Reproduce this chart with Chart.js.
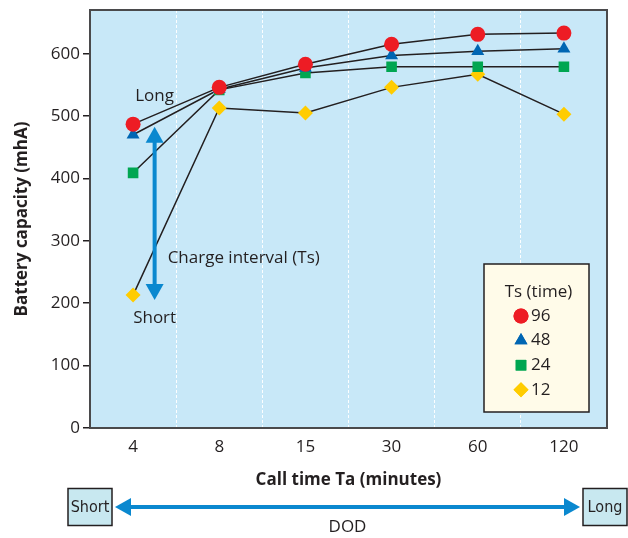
<!DOCTYPE html>
<html>
<head>
<meta charset="utf-8">
<script src="https://cdn.jsdelivr.net/npm/chart.js@4/dist/chart.umd.min.js"></script>
<style>
  html, body { margin: 0; padding: 0; background: #fff; }
  #wrap { width: 628px; height: 538px; }
</style>
</head>
<body>
<div id="wrap"><canvas id="batteryChart" width="628" height="538"></canvas></div>
<script>
// Call time categories (minutes)
const callTimes = ['4', '8', '15', '30', '60', '120'];
const yTicks = [0, 100, 200, 300, 400, 500, 600];

// Battery capacity (mhA) per charge interval Ts
const ts96 = [487, 546, 583, 615, 631, 633];
const ts48 = [470, 543, 577, 597, 604, 608];
const ts24 = [409, 542, 569, 579, 579, 579];
const ts12 = [213, 513, 505, 546, 567, 503];

const seriesLabels = ['96', '48', '24', '12'];

const ink = '#231f20';
const arrowBlue = '#0a88cf';
const fontFam = "'Open Sans', 'Noto Sans', sans-serif";

Chart.defaults.font.family = fontFam;
Chart.defaults.color = ink;

function series(label, data, color, style) {
    return {
        label: label,
        data: data,
        borderColor: ink,
        borderWidth: 1.5,
        backgroundColor: color,
        pointBackgroundColor: color,
        pointBorderColor: color,
        pointBorderWidth: 0,
        pointStyle: style,
        pointRadius: 7.5,
        tension: 0
    };
}

function arrowHead(ctx, x, y, dx, dy, len, half) {
    // tip at (x, y), pointing along (dx, dy)
    const px = -dy, py = dx;
    ctx.beginPath();
    ctx.moveTo(x, y);
    ctx.lineTo(x - dx * len + px * half, y - dy * len + py * half);
    ctx.lineTo(x - dx * len - px * half, y - dy * len - py * half);
    ctx.closePath();
    ctx.fill();
}

// light blue plot background
const plotBg = {
    id: 'plotBg',
    beforeDraw(chart) {
        const { ctx, chartArea: a } = chart;
        ctx.save();
        ctx.fillStyle = '#c8e8f8';
        ctx.fillRect(a.left, a.top, a.right - a.left, a.bottom - a.top);
        ctx.restore();
    },
    afterDatasetsDraw(chart) {
        const { ctx, chartArea: a } = chart;
        ctx.save();
        ctx.strokeStyle = '#4a4a4c';
        ctx.lineWidth = 2;
        ctx.strokeRect(a.left, a.top, a.right - a.left, a.bottom - a.top);
        ctx.restore();
    }
};

// annotations: charge interval arrow, legend box, DOD arrow
const notes = {
    id: 'notes',
    afterDraw(chart) {
        const { ctx, chartArea: a } = chart;
        const x = chart.scales.x, y = chart.scales.y;
        ctx.save();

        // vertical charge interval arrow
        const ax = x.getPixelForValue(0.25);
        const yTop = y.getPixelForValue(483), yBot = y.getPixelForValue(205);
        ctx.strokeStyle = arrowBlue;
        ctx.fillStyle = arrowBlue;
        ctx.lineWidth = 4;
        ctx.beginPath();
        ctx.moveTo(ax, yTop + 12);
        ctx.lineTo(ax, yBot - 12);
        ctx.stroke();
        arrowHead(ctx, ax, yTop, 0, -1, 16, 9);
        arrowHead(ctx, ax, yBot, 0, 1, 16, 9);

        ctx.fillStyle = ink;
        ctx.font = '17px ' + fontFam;
        ctx.textBaseline = 'middle';
        ctx.textAlign = 'center';
        ctx.fillText('Long', ax, y.getPixelForValue(532));
        ctx.fillText('Short', ax, y.getPixelForValue(176));
        ctx.textAlign = 'left';
        ctx.fillText('Charge interval (Ts)', ax + 13, y.getPixelForValue(272));

        // legend
        const lw = 105, lh = 148;
        const lx = a.right - 18 - lw, ly = a.bottom - 16 - lh;
        ctx.fillStyle = '#fffbe9';
        ctx.fillRect(lx, ly, lw, lh);
        ctx.strokeStyle = ink;
        ctx.lineWidth = 1.5;
        ctx.strokeRect(lx, ly, lw, lh);
        ctx.fillStyle = ink;
        ctx.textAlign = 'center';
        ctx.fillText('Ts (time)', lx + lw / 2 + 2, ly + 28);
        ctx.textAlign = 'left';
        chart.data.datasets.forEach((ds, i) => {
            const ry = ly + 52 + i * 24.6;
            ctx.fillStyle = ds.pointBackgroundColor;
            Chart.helpers.drawPoint(ctx, { pointStyle: ds.pointStyle, radius: 7.5, borderWidth: 0 }, lx + 37, ry);
            ctx.fill();
            ctx.fillStyle = ink;
            ctx.fillText(ds.label, lx + 47, ry);
        });

        // DOD arrow below the axis
        const dy = 507;
        const bx1 = 68, bx2 = 583, bw = 44, bh = 37;
        ctx.strokeStyle = arrowBlue;
        ctx.fillStyle = arrowBlue;
        ctx.lineWidth = 4;
        ctx.beginPath();
        ctx.moveTo(bx1 + bw + 15, dy);
        ctx.lineTo(bx2 - 15, dy);
        ctx.stroke();
        arrowHead(ctx, bx1 + bw + 3, dy, -1, 0, 16, 9);
        arrowHead(ctx, bx2 - 3, dy, 1, 0, 16, 9);

        ctx.fillStyle = '#c8e8f0';
        ctx.strokeStyle = ink;
        ctx.lineWidth = 1.5;
        [bx1, bx2].forEach(bx => {
            ctx.fillRect(bx, dy - bh / 2, bw, bh);
            ctx.strokeRect(bx, dy - bh / 2, bw, bh);
        });
        ctx.fillStyle = ink;
        ctx.textAlign = 'center';
        ctx.font = "16px 'Liberation Sans Narrow', 'DejaVu Sans Condensed', sans-serif";
        ctx.fillText('Short', bx1 + bw / 2, dy + 1);
        ctx.fillText('Long', bx2 + bw / 2, dy + 1);
        ctx.font = '17px ' + fontFam;
        ctx.fillText('DOD', (bx1 + bx2 + bw) / 2, dy + 20);

        ctx.restore();
    }
};

new Chart(document.getElementById('batteryChart'), {
    type: 'line',
    data: {
        labels: callTimes,
        datasets: [
            series(seriesLabels[0], ts96, '#ed1c24', 'circle'),
            series(seriesLabels[1], ts48, '#0066b3', 'triangle'),
            series(seriesLabels[2], ts24, '#00a651', 'rect'),
            series(seriesLabels[3], ts12, '#ffcc00', 'rectRot')
        ]
    },
    options: {
        responsive: false,
        animation: false,
        layout: { padding: { top: 10, right: 21, left: 0, bottom: 44 } },
        plugins: {
            legend: { display: false },
            tooltip: { enabled: false }
        },
        scales: {
            x: {
                offset: true,
                afterFit(scale) { scale.height = 66; },
                grid: {
                    offset: true,
                    color: 'rgba(255,255,255,0.95)',
                    lineWidth: 1,
                    drawTicks: false
                },
                border: { display: false, dash: [3, 2] },
                ticks: { font: { size: 17 }, padding: 9, color: ink },
                title: {
                    display: true,
                    text: 'Call time Ta (minutes)',
                    font: { size: 17, weight: 'bold' },
                    color: ink,
                    padding: { top: 4, bottom: 4 }
                }
            },
            y: {
                min: 0,
                max: 670,
                afterFit(scale) {
                    scale.width = 90;
                    scale.paddingTop = 0;
                    scale.paddingBottom = 0;
                },
                afterBuildTicks(scale) { scale.ticks = yTicks.map(v => ({ value: v })); },
                grid: {
                    drawOnChartArea: false,
                    color: ink,
                    lineWidth: 1.5,
                    tickLength: 7
                },
                border: { display: false },
                ticks: { font: { size: 17 }, padding: 3, color: ink },
                title: {
                    display: true,
                    text: 'Battery capacity (mhA)',
                    font: { size: 17, weight: 'bold' },
                    color: ink,
                    padding: { top: 12, bottom: 4 }
                }
            }
        }
    },
    plugins: [plotBg, notes]
});
</script>
</body>
</html>
